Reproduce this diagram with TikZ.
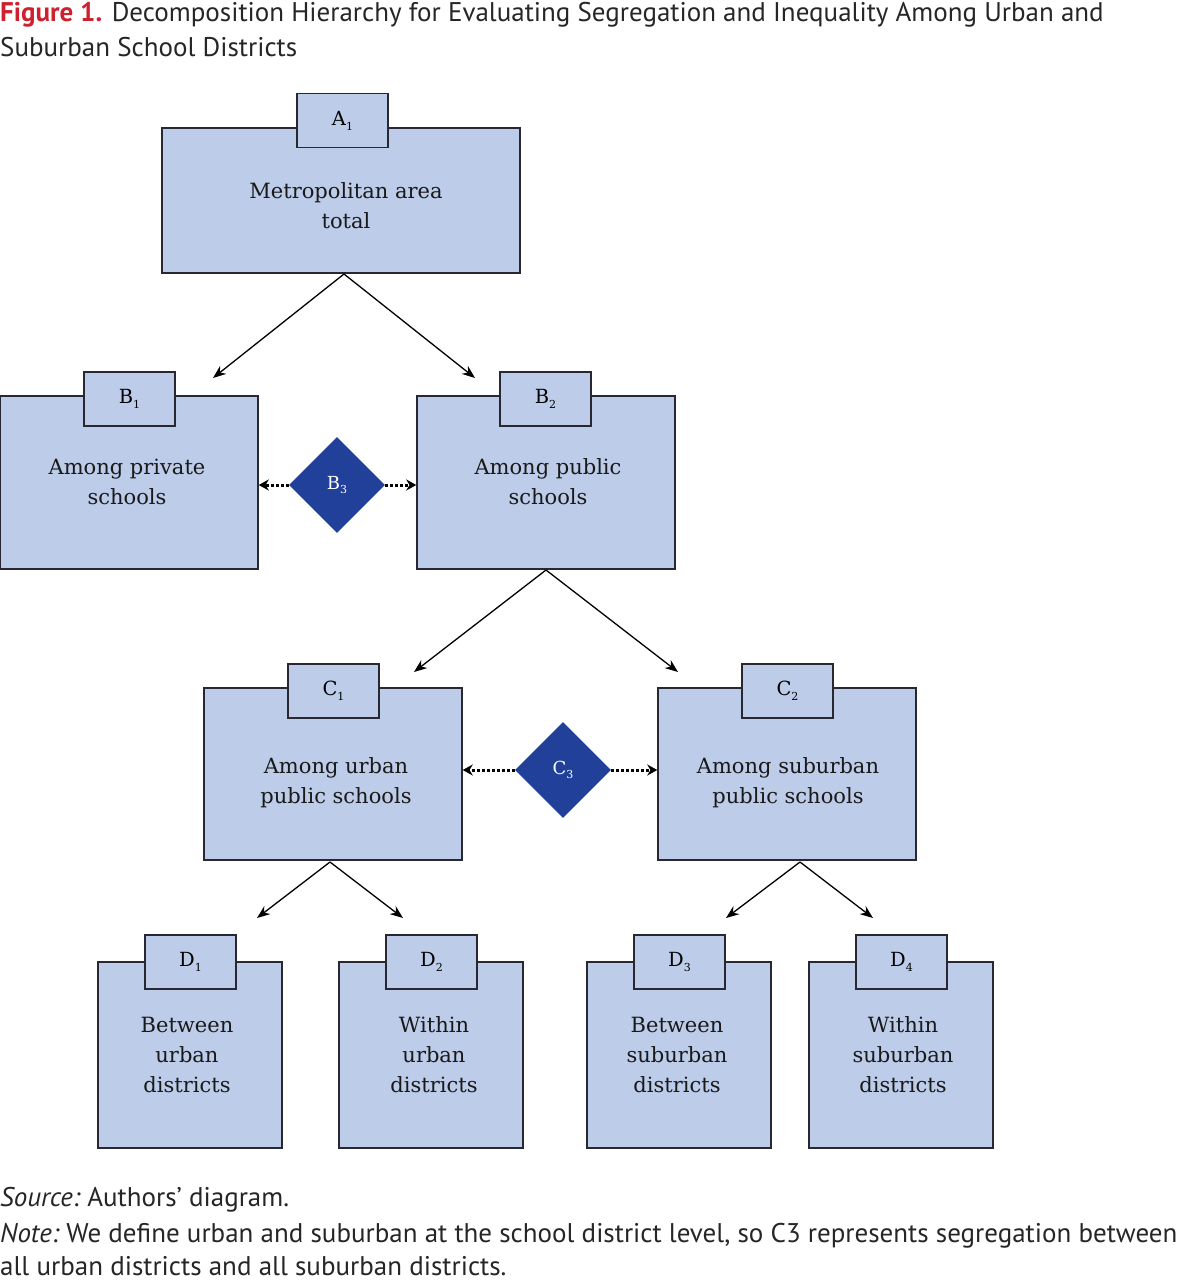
\documentclass[tikz,border=0pt]{standalone}
\usepackage{fontspec}
\setmainfont{DejaVu Serif}
\newfontfamily\capfont{PT Sans}
\usetikzlibrary{arrows.meta,shapes.geometric}
\definecolor{boxblue}{RGB}{188,204,233}
\definecolor{dkblue}{RGB}{32,64,154}
\definecolor{edgec}{RGB}{40,40,50}
\definecolor{figred}{RGB}{206,32,46}
\newcommand{\sub}[2]{#1\raisebox{-0.5ex}{\fontsize{11}{11}\selectfont #2}}
\begin{document}
\begin{tikzpicture}[x=1pt,y=-1pt,
  mainbox/.style={draw=edgec, fill=boxblue, line width=1.5pt, inner sep=0pt},
  tabbox/.style={draw=edgec, fill=boxblue, line width=1.5pt, inner sep=0pt,
     minimum width=91pt, minimum height=54pt, font=\fontsize{19.5}{21}\selectfont},
  boxtext/.style={align=center, inner sep=0pt, font=\fontsize{21}{30}\selectfont, text=black!90},
  dmd/.style={diamond, fill=dkblue, aspect=1, minimum width=96pt, minimum height=96pt,
     inner sep=0pt, text=white, font=\fontsize{18}{20}\selectfont},
  arr/.style={line width=1.3pt, -{Stealth[length=13pt,width=10pt]}},
  dotarr/.style={line width=3pt, dotted, -{Stealth[length=10pt,width=11pt]}},
  captext/.style={anchor=base west, inner sep=0pt, font=\capfont\fontsize{27}{34}\selectfont, text=black!85}
]
\useasboundingbox (0,0) rectangle (1176,1280);
\fill[white] (0,0) rectangle (1176,1280);

% title
\node[captext] (t1) at (0,21) {\textcolor{figred}{\bfseries Figure 1.} Decomposition Hierarchy for Evaluating Segregation and Inequality Among Urban and};
\node[captext] (t2) at (0,56) {Suburban School Districts};

% A
\node[mainbox, minimum width=358pt, minimum height=145pt] (A) at (341,200.5) {};
\node[tabbox] (Atab) at (342.5,120.5) {\sub{A}{1}};
\node[boxtext] (Atext) at (346,206) {Metropolitan area\\total};

% B
\node[mainbox, minimum width=258pt, minimum height=173pt] (B1) at (129,482.5) {};
\node[tabbox] (B1tab) at (129.5,399) {\sub{B}{1}};
\node[boxtext] (B1text) at (127,482) {Among private\\schools};
\node[mainbox, minimum width=258pt, minimum height=173pt] (B2) at (546,482.5) {};
\node[tabbox] (B2tab) at (545.5,399) {\sub{B}{2}};
\node[boxtext] (B2text) at (548,482) {Among public\\schools};
\node[dmd] (B3) at (337,485) {\sub{B}{3}};

% C
\node[mainbox, minimum width=258pt, minimum height=172pt] (C1) at (333,774) {};
\node[tabbox] (C1tab) at (333.5,691) {\sub{C}{1}};
\node[boxtext] (C1text) at (336,783) {Among urban\\public schools};
\node[mainbox, minimum width=258pt, minimum height=172pt] (C2) at (787,774) {};
\node[tabbox] (C2tab) at (787.5,691) {\sub{C}{2}};
\node[boxtext] (C2text) at (788,783) {Among suburban\\public schools};
\node[dmd] (C3) at (563,770) {\sub{C}{3}};

% D
\node[mainbox, minimum width=184pt, minimum height=186pt] (D1) at (190,1055) {};
\node[tabbox] (D1tab) at (190.5,962) {\sub{D}{1}};
\node[boxtext] (D1text) at (187,1055) {Between\\urban\\districts};
\node[mainbox, minimum width=184pt, minimum height=186pt] (D2) at (431,1055) {};
\node[tabbox] (D2tab) at (431.5,962) {\sub{D}{2}};
\node[boxtext] (D2text) at (434,1055) {Within\\urban\\districts};
\node[mainbox, minimum width=184pt, minimum height=186pt] (D3) at (679,1055) {};
\node[tabbox] (D3tab) at (679.5,962) {\sub{D}{3}};
\node[boxtext] (D3text) at (677,1055) {Between\\suburban\\districts};
\node[mainbox, minimum width=184pt, minimum height=186pt] (D4) at (901,1055) {};
\node[tabbox] (D4tab) at (901.5,962) {\sub{D}{4}};
\node[boxtext] (D4text) at (903,1055) {Within\\suburban\\districts};

% arrow ends
\coordinate (a1) at (344,274);
\coordinate (eB1) at (213,378);
\coordinate (eB2) at (475,378);
\coordinate (b2) at (546,570);
\coordinate (eC1) at (414,672);
\coordinate (eC2) at (678,672);
\coordinate (c1) at (330,862);
\coordinate (eD1) at (257,918);
\coordinate (eD2) at (403,918);
\coordinate (c2) at (800,862);
\coordinate (eD3) at (726,918);
\coordinate (eD4) at (873,918);

\draw[arr] (a1) -- (eB1);
\draw[arr] (a1) -- (eB2);
\draw[arr] (b2) -- (eC1);
\draw[arr] (b2) -- (eC2);
\draw[arr] (c1) -- (eD1);
\draw[arr] (c1) -- (eD2);
\draw[arr] (c2) -- (eD3);
\draw[arr] (c2) -- (eD4);

\draw[dotarr] (B3.west) -- (B3.west -| B1.east);
\draw[dotarr] (B3.east) -- (B3.east -| B2.west);
\draw[dotarr] (C3.west) -- (C3.west -| C1.east);
\draw[dotarr] (C3.east) -- (C3.east -| C2.west);

% captions
\node[captext] (src) at (0,1206) {\itshape Source:\upshape\ Authors’ diagram.};
\node[captext] (n1) at (0,1242) {\itshape Note:\upshape\ We define urban and suburban at the school district level, so C3 represents segregation between};
\node[captext] (n2) at (0,1275) {all urban districts and all suburban districts.};
\end{tikzpicture}
\end{document}
